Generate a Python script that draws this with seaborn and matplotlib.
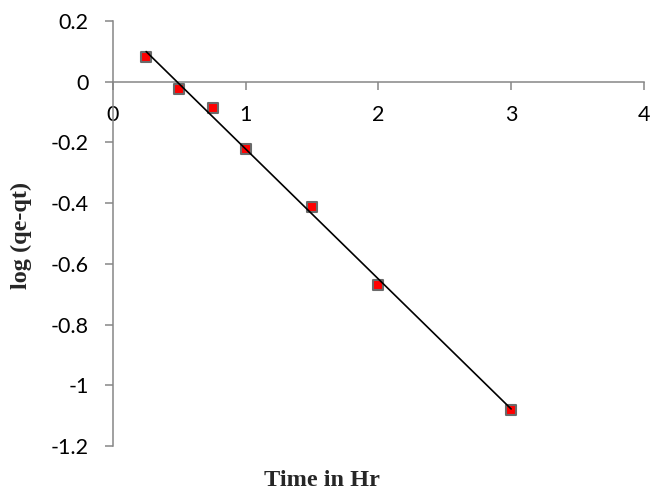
import numpy as np
import pandas as pd
import matplotlib
matplotlib.use("Agg")
import matplotlib.pyplot as plt
import seaborn as sns

# Pseudo-first-order kinetics: log(qe - qt) against contact time
time_hr = [0.25, 0.5, 0.75, 1.0, 1.5, 2.0, 3.0]
log_qe_qt = [0.082, -0.023, -0.086, -0.220, -0.411, -0.668, -1.082]
x_ticks = [0, 1, 2, 3, 4]
y_ticks = [0.2, 0, -0.2, -0.4, -0.6, -0.8, -1, -1.2]

df = pd.DataFrame({"time": time_hr, "logq": log_qe_qt})

sns.set_style("white")
plt.rcParams["font.family"] = ["Lato", "DejaVu Sans"]

fig = plt.figure(figsize=(6.53, 4.90), dpi=100)
ax = fig.add_axes([0.173, 0.0898, 0.813, 0.8672])

sns.regplot(
    data=df, x="time", y="logq", ax=ax, ci=None, marker="s",
    scatter_kws=dict(s=7.2 ** 2, color="#ff0000", edgecolors="#6a6a6a",
                     linewidths=1.5, alpha=1, zorder=3),
    line_kws=dict(color="black", lw=1.2, zorder=4),
)

ax.set_xlim(0, 4)
ax.set_ylim(-1.2, 0.2)
ax.set_xticks(x_ticks)
ax.set_xticklabels([str(v) for v in x_ticks])
ax.set_yticks(y_ticks)
ax.set_yticklabels([f"{v:g}" for v in y_ticks])

axis_grey = "#868686"
for side in ("top", "right"):
    ax.spines[side].set_visible(False)
for side in ("left", "bottom"):
    ax.spines[side].set_color(axis_grey)
    ax.spines[side].set_linewidth(1.1)
ax.spines["bottom"].set_position(("data", 0))

ax.tick_params(axis="both", direction="out", length=5.5, width=1.1,
               color=axis_grey, labelsize=15.5, labelcolor="black")
ax.tick_params(axis="x", pad=11, bottom=True)
ax.tick_params(axis="y", pad=12, left=True)

ax.set_xlabel("Time in Hr", fontsize=17.5, fontweight="bold",
              family="Liberation Serif")
ax.set_ylabel("log (qe-qt)", fontsize=17.5, fontweight="bold",
              family="Liberation Serif")
ax.xaxis.set_label_coords(0.393, -0.057)
ax.yaxis.set_label_coords(-0.152, 0.496)

fig.savefig("out.png", dpi=100)
